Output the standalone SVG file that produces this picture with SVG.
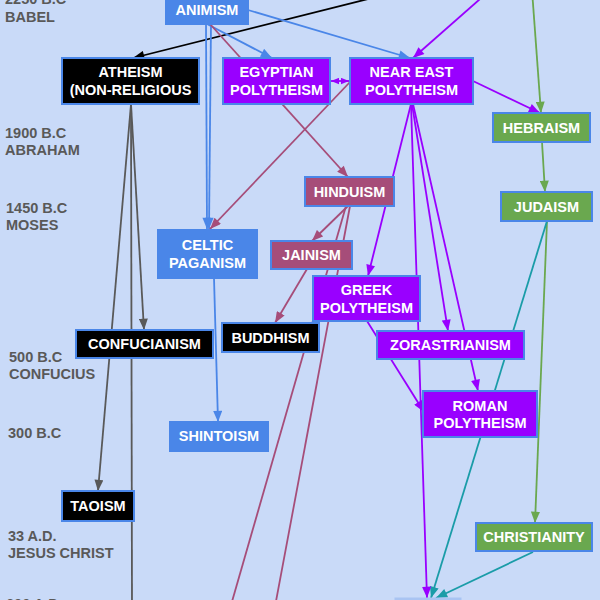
<svg xmlns="http://www.w3.org/2000/svg" width="600" height="600" viewBox="0 0 600 600">
<style>
.lbl{font-family:"Liberation Sans",Arial,sans-serif;font-weight:bold;font-size:14.5px;fill:#595959}
.nt{font-family:"Liberation Sans",Arial,sans-serif;font-weight:bold;font-size:14.5px;fill:#fff;text-anchor:middle}
.blue{fill:#4a86e8;stroke:#4a86e8;stroke-width:2}
.blk{fill:#000;stroke:#4a86e8;stroke-width:2}
.pur{fill:#9900ff;stroke:#4a86e8;stroke-width:2}
.mar{fill:#a64d79;stroke:#4a86e8;stroke-width:2}
.grn{fill:#6aa84f;stroke:#4a86e8;stroke-width:2}
.c line,.c path{fill:none;stroke-width:1.8}
.k{stroke:#000;stroke-width:2}
.b{stroke:#4a86e8}
.m{stroke:#a64d79}
.p{stroke:#9900ff}
.g{stroke:#6aa84f}
.t{stroke:#1a9ca8}
.y{stroke:#595959;stroke-width:1.9}
</style>
<defs>
<marker id="ak" viewBox="0 0 10 8" refX="10" refY="4" markerWidth="12" markerHeight="9" markerUnits="userSpaceOnUse" orient="auto"><path d="M0,0L10,4L0,8z" fill="#000"/></marker>
<marker id="ab" viewBox="0 0 10 8" refX="10" refY="4" markerWidth="12" markerHeight="9" markerUnits="userSpaceOnUse" orient="auto"><path d="M0,0L10,4L0,8z" fill="#4a86e8"/></marker>
<marker id="am" viewBox="0 0 10 8" refX="10" refY="4" markerWidth="12" markerHeight="9" markerUnits="userSpaceOnUse" orient="auto"><path d="M0,0L10,4L0,8z" fill="#a64d79"/></marker>
<marker id="ap" viewBox="0 0 10 8" refX="10" refY="4" markerWidth="12" markerHeight="9" markerUnits="userSpaceOnUse" orient="auto"><path d="M0,0L10,4L0,8z" fill="#9900ff"/></marker>
<marker id="ap2" viewBox="0 0 10 8" refX="10" refY="4" markerWidth="8" markerHeight="7" markerUnits="userSpaceOnUse" orient="auto-start-reverse"><path d="M0,0L10,4L0,8z" fill="#9900ff"/></marker>
<marker id="ag" viewBox="0 0 10 8" refX="10" refY="4" markerWidth="12" markerHeight="9" markerUnits="userSpaceOnUse" orient="auto"><path d="M0,0L10,4L0,8z" fill="#6aa84f"/></marker>
<marker id="at" viewBox="0 0 10 8" refX="10" refY="4" markerWidth="12" markerHeight="9" markerUnits="userSpaceOnUse" orient="auto"><path d="M0,0L10,4L0,8z" fill="#1a9ca8"/></marker>
<marker id="ay" viewBox="0 0 10 8" refX="10" refY="4" markerWidth="12" markerHeight="9" markerUnits="userSpaceOnUse" orient="auto"><path d="M0,0L10,4L0,8z" fill="#595959"/></marker>
</defs>
<rect width="600" height="600" fill="#c9daf8"/>
<g id="timeline">
<text class="lbl" x="5" y="4">2250 B.C</text>
<text class="lbl" x="5" y="22">BABEL</text>
<text class="lbl" x="5" y="138">1900 B.C</text>
<text class="lbl" x="5" y="155">ABRAHAM</text>
<text class="lbl" x="6" y="213">1450 B.C</text>
<text class="lbl" x="6" y="230">MOSES</text>
<text class="lbl" x="9" y="362">500 B.C</text>
<text class="lbl" x="9" y="379">CONFUCIUS</text>
<text class="lbl" x="8" y="438">300 B.C</text>
<text class="lbl" x="8" y="541">33 A.D.</text>
<text class="lbl" x="8" y="558">JESUS CHRIST</text>
<text class="lbl" x="6" y="609">600 A.D.</text>
</g>
<g id="connectors" class="c">
<line class="k" x1="400" y1="-9" x2="133" y2="58" marker-end="url(#ak)"/>
<line class="b" x1="248" y1="10" x2="410" y2="58" marker-end="url(#ab)"/>
<line class="b" x1="207" y1="24" x2="272" y2="58" marker-end="url(#ab)"/>
<line class="b" x1="206" y1="24" x2="207" y2="229" marker-end="url(#ab)"/>
<line class="b" x1="211" y1="24" x2="209" y2="229" marker-end="url(#ab)"/>
<line class="b" x1="214" y1="278" x2="218" y2="422" marker-end="url(#ab)"/>
<line class="m" x1="210" y1="24" x2="348" y2="177" marker-end="url(#am)"/>
<line class="m" x1="350" y1="82" x2="210" y2="229" marker-end="url(#am)"/>
<line class="p" x1="331" y1="81" x2="349" y2="81" marker-start="url(#ap2)" marker-end="url(#ap2)"/>
<line class="p" x1="488" y1="-8" x2="413" y2="58" marker-end="url(#ap)"/>
<line class="g" x1="532" y1="-10" x2="541" y2="113" marker-end="url(#ag)"/>
<line class="p" x1="473" y1="81" x2="540" y2="113" marker-end="url(#ap)"/>
<line class="g" x1="542" y1="142" x2="545" y2="192" marker-end="url(#ag)"/>
<line class="g" x1="547" y1="221" x2="535" y2="523" marker-end="url(#ag)"/>
<line class="t" x1="547" y1="221" x2="431" y2="598" marker-end="url(#at)"/>
<line class="t" x1="533" y1="552" x2="436" y2="598" marker-end="url(#at)"/>
<line class="p" x1="411" y1="104" x2="368" y2="276" marker-end="url(#ap)"/>
<line class="p" x1="411" y1="104" x2="427" y2="598" marker-end="url(#ap)"/>
<line class="p" x1="412" y1="104" x2="448" y2="331" marker-end="url(#ap)"/>
<line class="p" x1="413" y1="104" x2="478" y2="391" marker-end="url(#ap)"/>
<line class="p" x1="367" y1="321" x2="424" y2="412" marker-end="url(#ap)"/>
<line class="m" x1="348" y1="206" x2="312" y2="241" marker-end="url(#am)"/>
<line class="m" x1="346" y1="206" x2="229" y2="612"/>
<line class="m" x1="350" y1="206" x2="274" y2="612"/>
<line class="m" x1="307" y1="269" x2="275" y2="323" marker-end="url(#am)"/>
<line class="y" x1="131" y1="104" x2="144" y2="330" marker-end="url(#ay)"/>
<line class="y" x1="131" y1="104" x2="98" y2="491" marker-end="url(#ay)"/>
<line class="y" x1="131" y1="104" x2="132" y2="605"/>
</g>
<g id="animism"><rect class="blue" x="166" y="-6" width="82" height="30"/><text class="nt" x="207" y="15">ANIMISM</text></g>
<g id="atheism"><rect class="blk" x="62" y="58" width="137" height="46"/><text class="nt" x="130.5" y="77">ATHEISM</text><text class="nt" x="130.5" y="95">(NON-RELIGIOUS</text></g>
<g id="egyptian"><rect class="pur" x="223" y="58" width="107" height="46"/><text class="nt" x="276.5" y="77">EGYPTIAN</text><text class="nt" x="276.5" y="95">POLYTHEISM</text></g>
<g id="neareast"><rect class="pur" x="350" y="58" width="123" height="46"/><text class="nt" x="411.5" y="77">NEAR EAST</text><text class="nt" x="411.5" y="95">POLYTHEISM</text></g>
<g id="hebraism"><rect class="grn" x="493" y="113" width="97" height="29"/><text class="nt" x="541.5" y="133">HEBRAISM</text></g>
<g id="judaism"><rect class="grn" x="501" y="192" width="91" height="29"/><text class="nt" x="546.5" y="212">JUDAISM</text></g>
<g id="hinduism"><rect class="mar" x="305" y="177" width="89" height="29"/><text class="nt" x="349.5" y="197">HINDUISM</text></g>
<g id="jainism"><rect class="mar" x="271" y="241" width="81" height="28"/><text class="nt" x="311.5" y="260">JAINISM</text></g>
<g id="celtic"><rect class="blue" x="158" y="230" width="99" height="48"/><text class="nt" x="207.5" y="250">CELTIC</text><text class="nt" x="207.5" y="268">PAGANISM</text></g>
<g id="greek"><rect class="pur" x="313" y="276" width="107" height="45"/><text class="nt" x="366.5" y="295">GREEK</text><text class="nt" x="366.5" y="313">POLYTHEISM</text></g>
<g id="buddhism"><rect class="blk" x="222" y="323" width="97" height="29"/><text class="nt" x="270.5" y="343">BUDDHISM</text></g>
<g id="confucianism"><rect class="blk" x="76" y="330" width="137" height="28"/><text class="nt" x="144.5" y="349">CONFUCIANISM</text></g>
<g id="zorastrianism"><rect class="pur" x="377" y="331" width="147" height="28"/><text class="nt" x="450.5" y="350">ZORASTRIANISM</text></g>
<g id="roman"><rect class="pur" x="423" y="391" width="114" height="46"/><text class="nt" x="480" y="410.5">ROMAN</text><text class="nt" x="480" y="428">POLYTHEISM</text></g>
<g id="shintoism"><rect class="blue" x="170" y="422" width="98" height="29"/><text class="nt" x="219" y="441">SHINTOISM</text></g>
<g id="taoism"><rect class="blk" x="62" y="491" width="72" height="30"/><text class="nt" x="98" y="511">TAOISM</text></g>
<g id="christianity"><rect class="grn" x="476" y="523" width="116" height="28"/><text class="nt" x="534" y="542">CHRISTIANITY</text></g>
<g id="bottomnode"><rect x="395" y="598" width="66" height="30" fill="#a9c4f2" stroke="#a9c4f2"/></g>
</svg>
